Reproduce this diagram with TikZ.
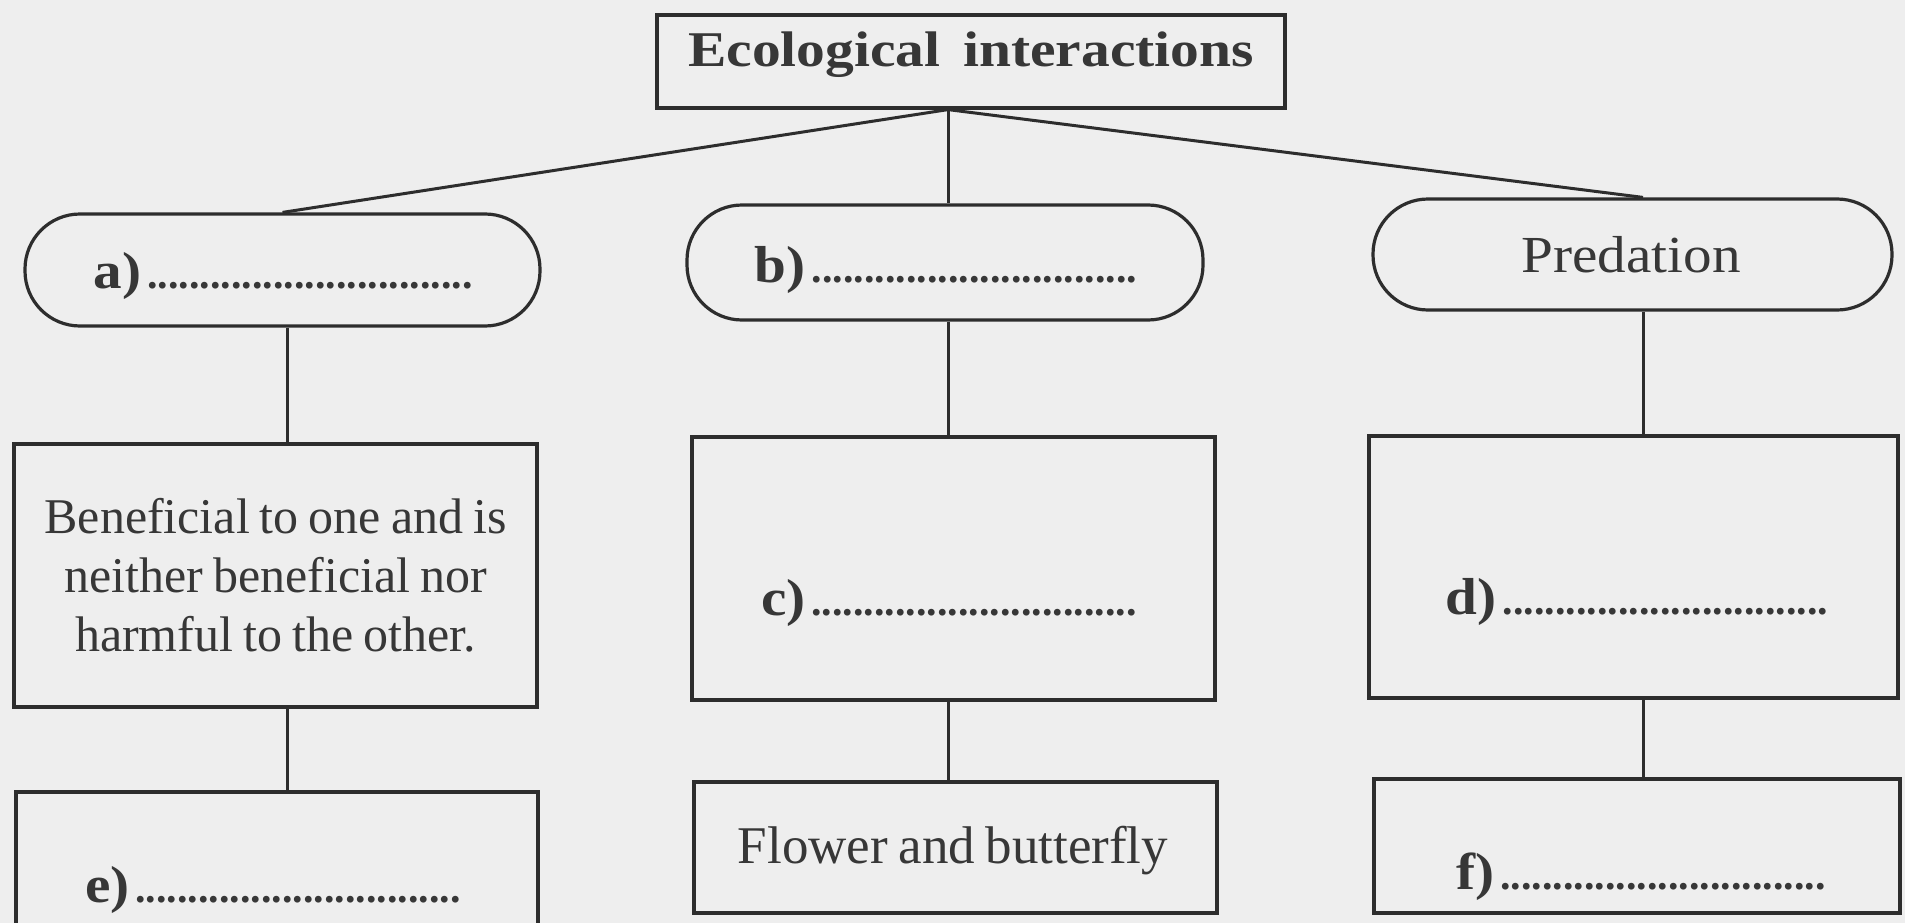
\documentclass[tikz,border=0pt]{standalone}
\usepackage{fontspec}
\setmainfont{Liberation Serif}
\newfontfamily\widefont[FakeStretch=1.1]{Liberation Serif}
\newfontfamily\titlefont[FakeStretch=1.15]{Liberation Serif}
\definecolor{bgc}{RGB}{238,238,238}
\definecolor{linec}{RGB}{45,45,45}
\definecolor{txtc}{RGB}{55,55,55}
\newcommand{\tightwords}{\spaceskip=0.2em plus 0.05em\relax}
\newcommand{\bodyfont}{\fontsize{50}{59}\selectfont\tightwords}
\newcommand{\flowerfont}{\fontsize{53}{59}\selectfont\tightwords}
\newcommand{\blanklabel}[1]{{\widefont\bfseries\fontsize{52}{52}\selectfont #1}\hspace{6pt}{\bfseries\fontsize{42}{42}\selectfont ...............................}}
\begin{document}
\begin{tikzpicture}[x=1pt,y=-1pt,
  shapebox/.style={draw=linec, line width=3.2pt, inner sep=0pt, fill=bgc},
  pillbox/.style={shapebox, rounded corners=55pt},
  conn/.style={draw=linec, line width=3pt},
  txt/.style={text=txtc, inner sep=0pt, anchor=base},
  bodytext/.style={text=txtc, font=\bodyfont, align=center}]
\fill[bgc] (0,0) rectangle (1905,923);
\useasboundingbox (0,0) rectangle (1905,923);

% column coordinates
\coordinate (colA) at (287,0);
\coordinate (colB) at (948,0);
\coordinate (colP) at (1643,0);

% boxes
\node[shapebox, minimum width=628pt, minimum height=93pt] (T) at (971,61.5) {};
\node[pillbox, minimum width=515pt, minimum height=112pt] (A) at (282.5,270) {};
\node[pillbox, minimum width=516pt, minimum height=115pt] (B) at (945,262.5) {};
\node[pillbox, minimum width=519pt, minimum height=111pt] (P) at (1632.5,254.5) {};
\node[shapebox, minimum width=523pt, minimum height=263pt, bodytext] (Ben) at (275.5,575.5)
  {Beneficial to one and is\\neither beneficial nor\\harmful to the other.};
\node[shapebox, minimum width=523pt, minimum height=263pt] (C) at (953.5,568.5) {};
\node[shapebox, minimum width=529pt, minimum height=262pt] (D) at (1633.5,567) {};
\node[shapebox, minimum width=522pt, minimum height=198pt] (E) at (277,891) {};
\node[shapebox, minimum width=523pt, minimum height=131pt] (Fl) at (955.5,847.5) {};
\node[shapebox, minimum width=526pt, minimum height=134pt] (F) at (1637,846) {};

% texts
\node[txt, font=\titlefont\bfseries\fontsize{50}{50}\selectfont] (Tt) at (971,67) {Ecological\hspace{0.45em}interactions};
\node[txt] (At) at (283,288) {\blanklabel{a)}};
\node[txt] (Bt) at (946,282) {\blanklabel{b)}};
\node[txt, font=\widefont\fontsize{52}{52}\selectfont] (Pt) at (1631,272) {Predation};
\node[txt] (Ct) at (949,615) {\blanklabel{c)}};
\node[txt] (Dt) at (1637,614) {\blanklabel{d)}};
\node[txt] (Et) at (273,902) {\blanklabel{e)}};
\node[txt] (Ft) at (1641,889) {\blanklabel{f)}};
\node[txt, font=\flowerfont] (Flt) at (953,863) {Flower and butterfly};

% connectors
\coordinate (hub) at (T.south -| colB);
\draw[conn] (hub) -- (A.north);
\draw[conn] (hub) -- (B.north -| colB);
\draw[conn] (hub) -- (P.north -| colP);
\draw[conn] (A.south -| colA) -- (Ben.north -| colA);
\draw[conn] (Ben.south -| colA) -- (E.north -| colA);
\draw[conn] (B.south -| colB) -- (C.north -| colB);
\draw[conn] (C.south -| colB) -- (Fl.north -| colB);
\draw[conn] (P.south -| colP) -- (D.north -| colP);
\draw[conn] (D.south -| colP) -- (F.north -| colP);
\end{tikzpicture}
\end{document}
